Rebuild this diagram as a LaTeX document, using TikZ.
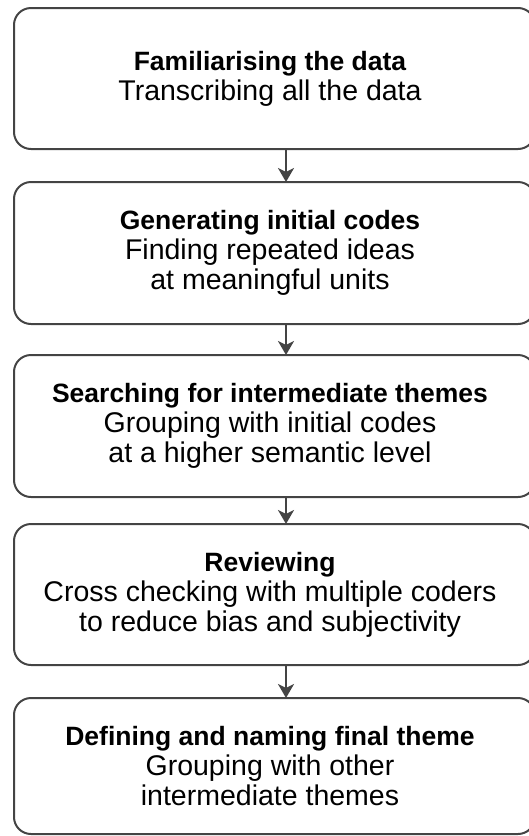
\documentclass[tikz,border=0pt]{standalone}
\usepackage{fontspec}
\setmainfont{Liberation Sans}
\usetikzlibrary{arrows.meta}
\definecolor{edge}{HTML}{444444}
\newcommand{\stagetitle}[1]{{\fontsize{26.5}{30}\selectfont\bfseries #1}}
\tikzset{
  stagebox/.style={draw=edge, line width=2pt, rounded corners=17pt, rectangle,
    inner sep=0pt, outer sep=0pt, minimum width=521pt},
  stagetext/.style={align=center, text=black, inner sep=0pt,
    font=\fontsize{28.5}{30}\selectfont},
  flowarrow/.style={draw=edge, line width=2.5pt, -{Stealth[length=14pt,width=16pt,inset=4pt]}}
}
\begin{document}
\begin{tikzpicture}[x=1pt,y=-1pt]
\useasboundingbox (0,0) rectangle (529,836);
\coordinate (ax) at (286,0);
\node[stagebox, minimum height=141pt] (b1) at (274.5,78.5) {};
\node[stagebox, minimum height=142pt] (b2) at (274.5,253) {};
\node[stagebox, minimum height=142pt] (b3) at (274.5,426) {};
\node[stagebox, minimum height=141pt] (b4) at (274.5,594.5) {};
\node[stagebox, minimum height=136pt] (b5) at (274.5,766) {};
\node[stagetext] (t1) at (270,78.5) {\stagetitle{Familiarising the data}\\Transcribing all the data};
\node[stagetext] (t2) at (270,253) {\stagetitle{Generating initial codes}\\Finding repeated ideas\\at meaningful units};
\node[stagetext] (t3) at (270,426) {\stagetitle{Searching for intermediate themes}\\Grouping with initial codes\\at a higher semantic level};
\node[stagetext] (t4) at (270,594.5) {\stagetitle{Reviewing}\\Cross checking with multiple coders\\to reduce bias and subjectivity};
\node[stagetext] (t5) at (270,766) {\stagetitle{Defining and naming final theme}\\Grouping with other\\intermediate themes};
\draw[flowarrow] (b1.south -| ax) -- (b2.north -| ax);
\draw[flowarrow] (b2.south -| ax) -- (b3.north -| ax);
\draw[flowarrow] (b3.south -| ax) -- (b4.north -| ax);
\draw[flowarrow] (b4.south -| ax) -- (b5.north -| ax);
\end{tikzpicture}
\end{document}
